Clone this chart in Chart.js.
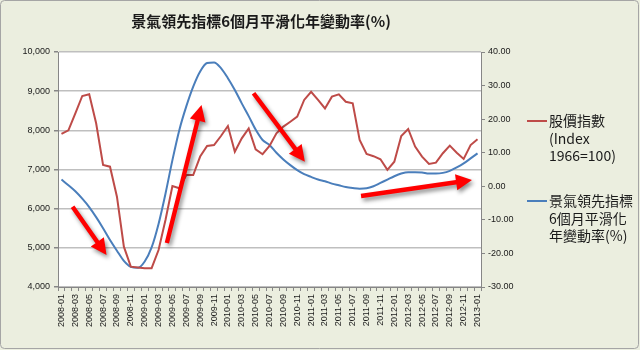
<!DOCTYPE html>
<html>
<head>
<meta charset="utf-8">
<script src="https://cdn.jsdelivr.net/npm/chart.js@4"></script>
<style>
  html, body { margin: 0; padding: 0; background: #ebeedf; }
  #wrap { width: 640px; height: 350px; }
</style>
</head>
<body>
<div id="wrap"><canvas id="myChart" width="640" height="350"></canvas></div>
<script>
// months 2008-01 .. 2013-01
let months = [];
for (let y = 2008; y <= 2013; y++) {
    for (let m = 1; m <= 12; m++) {
        if (y == 2013 && m > 1) break;
        months.push(y + "-" + (m < 10 ? "0" + m : m));
    }
}

// 股價指數 (left axis)
let stockIndex = [
    7907, 8000, 8435, 8877, 8920, 8180, 7115, 7072, 6306, 5030, 4520, 4500,
    4480, 4480, 4945, 5710, 6580, 6520, 6860, 6860, 7330, 7600, 7625, 7855,
    8110, 7455, 7795, 8050, 7515, 7390, 7600, 7925, 8095, 8220, 8350, 8775,
    8985, 8775, 8560, 8860, 8920, 8730, 8690, 7755, 7395, 7340, 7260, 6990,
    7200, 7855, 8035, 7585, 7330, 7140, 7175, 7415, 7610, 7430, 7270, 7625,
    7770
];

// 景氣領先指標6個月平滑化年變動率 (right axis, %)
let leadingIndex = [
    2.0, 0.3, -1.5, -3.7, -6.2, -9.2, -12.5, -16.0, -19.2, -22.2, -24.0, -24.3,
    -22.4, -18.2, -11.2, -2.2, 7.8, 16.8, 23.8, 29.7, 34.2, 36.7, 36.9, 35.2,
    32.2, 28.7, 24.7, 20.9, 16.9, 13.8, 12.3, 10.0, 8.0, 6.3, 4.8, 3.6,
    2.8, 2.0, 1.5, 0.8, 0.3, -0.2, -0.5, -0.7, -0.6, 0.0, 1.0, 2.0,
    3.0, 3.8, 4.2, 4.2, 4.1, 3.8, 3.8, 4.0, 4.6, 5.6, 6.8, 8.3,
    9.8
];

let titleText = "景氣領先指標6個月平滑化年變動率(%)";
let stockLabel = ["股價指數", "(Index", "1966=100)"];
let leadingLabel = ["景氣領先指標", "6個月平滑化", "年變動率(%)"];

// trend arrows: [fromMonthIndex, fromIndexValue, toMonthIndex, toIndexValue]
let arrows = [
    [1.6, 6050, 6.5, 4817],
    [15.2, 5124, 20.2, 8647],
    [27.7, 8946, 35.1, 7200],
    [43.2, 6324, 59.2, 6732]
];

const RED = "#be4b48";
const BLUE = "#4a7ebb";
const cjk = "'Noto Sans CJK TC', 'Noto Sans', sans-serif";
const tickFont = { family: "'Liberation Sans', Arial", size: 9 };

const frame = {
    id: "frame",
    beforeDraw(chart) {
        let c = chart.ctx;
        c.save();
        c.fillStyle = "#ebeedf";
        c.fillRect(0, 0, chart.width, chart.height);
        c.strokeStyle = "#a5a5a5";
        c.lineWidth = 1;
        c.beginPath();
        c.roundRect(0.5, 0.5, chart.width - 2, chart.height - 2, 4);
        c.stroke();
        let a = chart.chartArea;
        c.fillStyle = "#ffffff";
        c.fillRect(a.left, a.top, a.right - a.left, a.bottom - a.top);
        c.restore();
    },
    afterDraw(chart) {
        let c = chart.ctx;
        c.save();
        // title
        c.fillStyle = "#1a1a1a";
        c.font = "bold 15px " + cjk;
        c.textAlign = "center";
        c.textBaseline = "middle";
        c.fillText(titleText, 261, 21);

        // arrows
        let xs = chart.scales.x, ys = chart.scales.y;
        for (let ar of arrows) {
            let x1 = xs.getPixelForValue(ar[0]), y1 = ys.getPixelForValue(ar[1]);
            let x2 = xs.getPixelForValue(ar[2]), y2 = ys.getPixelForValue(ar[3]);
            let ang = Math.atan2(y2 - y1, x2 - x1);
            let len = Math.hypot(x2 - x1, y2 - y1);
            c.save();
            c.translate(x1, y1);
            c.rotate(ang);
            c.shadowColor = "rgba(0,0,0,0.45)";
            c.shadowBlur = 4;
            c.shadowOffsetX = 2;
            c.shadowOffsetY = 3;
            c.fillStyle = "#ff0000";
            c.beginPath();
            c.moveTo(0, -2.2);
            c.lineTo(len - 16, -2.2);
            c.lineTo(len - 16, -8);
            c.lineTo(len, 0);
            c.lineTo(len - 16, 8);
            c.lineTo(len - 16, 2.2);
            c.lineTo(0, 2.2);
            c.closePath();
            c.fill();
            c.restore();
        }

        // legend
        c.font = "14px " + cjk;
        c.textAlign = "left";
        c.fillStyle = "#1a1a1a";
        let entries = [[RED, stockLabel, 121], [BLUE, leadingLabel, 201]];
        for (let e of entries) {
            c.strokeStyle = e[0];
            c.lineWidth = 2;
            c.beginPath();
            c.moveTo(527, e[2]);
            c.lineTo(547, e[2]);
            c.stroke();
            e[1].forEach(function(t, i) {
                c.fillText(t, 549, e[2] + i * 17.5);
            });
        }
        c.restore();
    }
};

const ctx = document.getElementById("myChart");

new Chart(ctx, {
    type: "line",
    data: {
        labels: months,
        datasets: [{
            label: stockLabel.join(" "),
            data: stockIndex,
            yAxisID: "y",
            borderColor: RED,
            borderWidth: 2,
            pointRadius: 0,
            tension: 0
        }, {
            label: leadingLabel.join(""),
            data: leadingIndex,
            yAxisID: "y1",
            borderColor: BLUE,
            borderWidth: 2,
            pointRadius: 0,
            cubicInterpolationMode: "monotone"
        }]
    },
    options: {
        responsive: false,
        animation: false,
        events: [],
        layout: { padding: { left: 0, right: 119, top: 52, bottom: 13 } },
        plugins: {
            legend: { display: false },
            title: { display: false },
            tooltip: { enabled: false }
        },
        scales: {
            x: {
                offset: true,
                afterFit: function(s) { s.height = 50; },
                grid: { offset: true, drawOnChartArea: false, tickLength: 4, color: "#868686" },
                border: { color: "#868686" },
                ticks: {
                    autoSkip: false,
                    maxRotation: 90,
                    minRotation: 90,
                    padding: 3,
                    color: "#1a1a1a",
                    font: tickFont,
                    callback: function(v, i) { return i % 2 == 0 ? months[i] : ""; }
                }
            },
            y: {
                position: "left",
                min: 4000,
                max: 10000,
                afterFit: function(s) { s.width = 58; },
                grid: { color: "#bfbfbf", lineWidth: 1.5, tickLength: 4, tickColor: "#868686" },
                border: { color: "#868686" },
                ticks: {
                    stepSize: 1000,
                    padding: 4,
                    color: "#1a1a1a",
                    font: tickFont,
                    callback: function(v) { return v.toLocaleString("en-US"); }
                }
            },
            y1: {
                position: "right",
                min: -30,
                max: 40,
                afterFit: function(s) { s.width = 40; },
                grid: { drawOnChartArea: false, tickLength: 4, color: "#868686" },
                border: { color: "#868686" },
                ticks: {
                    stepSize: 10,
                    padding: 3,
                    color: "#1a1a1a",
                    font: tickFont,
                    callback: function(v) { return v.toFixed(2); }
                }
            }
        }
    },
    plugins: [frame]
});
</script>
</body>
</html>
